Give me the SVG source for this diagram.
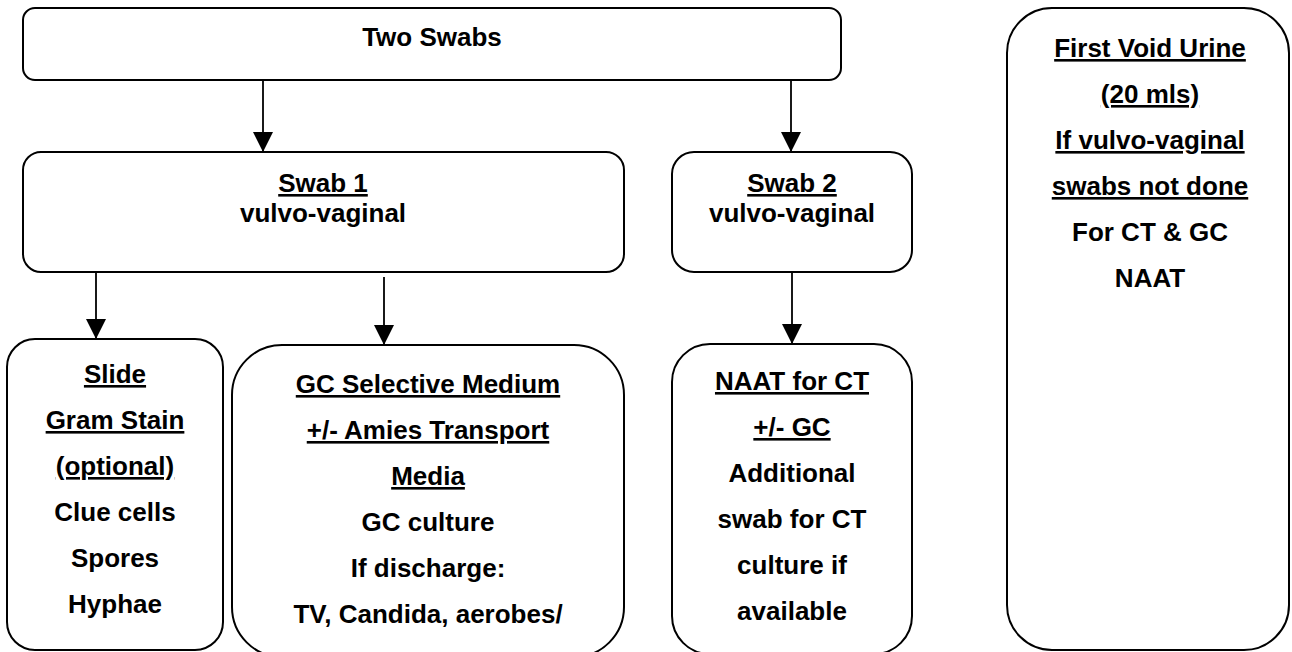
<svg xmlns="http://www.w3.org/2000/svg" width="1292" height="652" viewBox="0 0 1292 652">
<defs>
<style>
.box{fill:#fff;stroke:#000;stroke-width:2}
.t{font-family:"Liberation Sans",Arial,Helvetica,sans-serif;font-weight:bold;font-size:26px;text-anchor:middle;fill:#000}
.u{text-decoration:underline}
.c{stroke:#000;stroke-width:1.8;fill:none}
</style>
<marker id="ah" markerWidth="20" markerHeight="20" viewBox="0 0 20 20" refX="20" refY="10" orient="auto" markerUnits="userSpaceOnUse">
<path d="M0,0 L20,10 L0,20 Z" fill="#000"/>
</marker>
</defs>
<rect width="1292" height="652" fill="#fff"/>
<g id="connectors">
<line class="c" x1="263" y1="80" x2="263" y2="152" marker-end="url(#ah)"/>
<line class="c" x1="791" y1="80" x2="791" y2="152" marker-end="url(#ah)"/>
<line class="c" x1="96" y1="272" x2="96" y2="339" marker-end="url(#ah)"/>
<line class="c" x1="384" y1="277" x2="384" y2="345" marker-end="url(#ah)"/>
<line class="c" x1="792" y1="272" x2="792" y2="344" marker-end="url(#ah)"/>
</g>
<g id="two-swabs">
<rect class="box" x="23" y="8" width="818" height="72" rx="12"/>
<text class="t" x="432" y="46">Two Swabs</text>
</g>
<g id="swab1">
<rect class="box" x="23" y="152" width="601" height="120" rx="18"/>
<text class="t u" x="323" y="192">Swab 1</text>
<text class="t" x="323" y="222">vulvo-vaginal</text>
</g>
<g id="swab2">
<rect class="box" x="672" y="152" width="240" height="120" rx="22"/>
<text class="t u" x="792" y="192">Swab 2</text>
<text class="t" x="792" y="222">vulvo-vaginal</text>
</g>
<g id="urine">
<rect class="box" x="1007" y="8" width="282" height="642" rx="45"/>
<text class="t u" x="1150" y="57">First Void Urine</text>
<text class="t u" x="1150" y="103">(20 mls)</text>
<text class="t u" x="1150" y="149">If vulvo-vaginal</text>
<text class="t u" x="1150" y="195">swabs not done</text>
<text class="t" x="1150" y="241">For CT &amp; GC</text>
<text class="t" x="1150" y="287">NAAT</text>
</g>
<g id="slide">
<rect class="box" x="7" y="339" width="216" height="311" rx="28"/>
<text class="t u" x="115" y="383">Slide</text>
<text class="t u" x="115" y="429">Gram Stain</text>
<text class="t u" x="115" y="475">(optional)</text>
<text class="t" x="115" y="521">Clue cells</text>
<text class="t" x="115" y="567">Spores</text>
<text class="t" x="115" y="613">Hyphae</text>
</g>
<g id="gc">
<rect class="box" x="232" y="345" width="392" height="312" rx="50"/>
<text class="t u" x="428" y="393">GC Selective Medium</text>
<text class="t u" x="428" y="439">+/- Amies Transport</text>
<text class="t u" x="428" y="485">Media</text>
<text class="t" x="428" y="531">GC culture</text>
<text class="t" x="428" y="577">If discharge:</text>
<text class="t" x="428" y="623">TV, Candida, aerobes/</text>
</g>
<g id="naat">
<rect class="box" x="672" y="344" width="240" height="310" rx="38"/>
<text class="t u" x="792" y="390">NAAT for CT</text>
<text class="t u" x="792" y="436">+/- GC</text>
<text class="t" x="792" y="482">Additional</text>
<text class="t" x="792" y="528">swab for CT</text>
<text class="t" x="792" y="574">culture if</text>
<text class="t" x="792" y="620">available</text>
</g>
</svg>
